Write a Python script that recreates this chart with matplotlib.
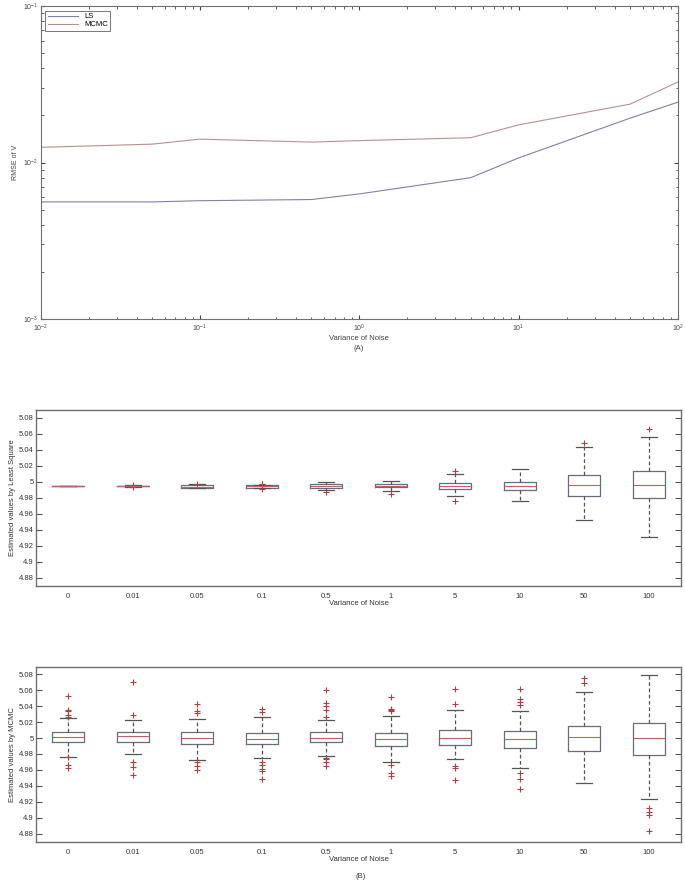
import numpy as np
import matplotlib
matplotlib.use("Agg")
import matplotlib.pyplot as plt
from matplotlib.ticker import LogLocator, NullFormatter

# --- panel A: RMSE of V vs noise variance ---
noise = [0.01, 0.05, 0.1, 0.5, 1, 5, 10, 50, 100]
rmse_ls = [0.0056, 0.0056, 0.0057, 0.0058, 0.0063, 0.0080, 0.0107, 0.0192, 0.0243]
rmse_mcmc = [0.0125, 0.0131, 0.0141, 0.0135, 0.0138, 0.0144, 0.0174, 0.0236, 0.0327]

# --- panel B: box plot stats (med, q1, q3, whislo, whishi) ---
cats = ["0", "0.01", "0.05", "0.1", "0.5", "1", "5", "10", "50", "100"]

ls_med = [4.9946, 4.9946, 4.9940, 4.9946, 4.9946, 4.9946, 4.9945, 4.9946, 4.9959, 4.9959]
ls_q1 = [4.9946, 4.9941, 4.9922, 4.9925, 4.9921, 4.9930, 4.9905, 4.9892, 4.9825, 4.9800]
ls_q3 = [4.9946, 4.9951, 4.9954, 4.9958, 4.9967, 4.9967, 4.9980, 5.0000, 5.0084, 5.0134]
ls_lo = [4.9946, 4.9938, 4.9918, 4.9920, 4.9900, 4.9880, 4.9825, 4.9759, 4.9520, 4.9310]
ls_hi = [4.9946, 4.9954, 4.9966, 4.9965, 4.9992, 5.0009, 5.0093, 5.0159, 5.0430, 5.0555]
ls_fl = [[], [4.9956, 4.9935], [4.9970], [4.9972, 4.9915, 4.9968], [4.9875],
         [4.9850], [5.0137, 4.9763], [], [5.0484], [5.0655]]

mc_med = [5.0008, 5.0020, 5.0000, 4.9991, 5.0000, 4.9991, 5.0004, 4.9987, 5.0012, 5.0000]
mc_q1 = [4.9945, 4.9954, 4.9925, 4.9925, 4.9954, 4.9900, 4.9912, 4.9879, 4.9837, 4.9783]
mc_q3 = [5.0070, 5.0070, 5.0070, 5.0062, 5.0075, 5.0062, 5.0100, 5.0091, 5.0150, 5.0191]
mc_lo = [4.9767, 4.9795, 4.9729, 4.9754, 4.9779, 4.9704, 4.9741, 4.9629, 4.9433, 4.9241]
mc_hi = [5.0250, 5.0229, 5.0241, 5.0262, 5.0229, 5.0275, 5.0354, 5.0341, 5.0583, 5.0787]
mc_fl = [[5.0533, 5.0354, 5.0337, 5.0287, 5.0270, 4.9760, 4.9666, 4.9620],
         [5.0708, 5.0291, 4.9704, 4.9633, 4.9541],
         [5.0425, 5.0337, 5.0316, 4.9696, 4.9654, 4.9604],
         [5.0370, 5.0329, 4.9700, 4.9666, 4.9612, 4.9583, 4.9490],
         [5.0600, 5.0445, 5.0404, 5.0354, 5.0262, 4.9754, 4.9737, 4.9696, 4.9654],
         [5.0512, 5.0362, 5.0341, 5.0350, 4.9658, 4.9562, 4.9529],
         [5.0612, 5.0429, 4.9654, 4.9620, 4.9475],
         [5.0612, 5.0495, 5.0458, 5.0412, 4.9562, 4.9490, 4.9362],
         [5.0750, 5.0687],
         [4.9125, 4.9070, 4.9029, 4.8833]]

plt.rcParams['font.family'] = ['Liberation Sans', 'DejaVu Sans']
plt.rcParams['font.size'] = 5.5
axcol = '#707070'

fig = plt.figure(figsize=(6.85, 8.81), dpi=100)

# panel A
ax1 = fig.add_axes([0.0594, 0.6379, 0.9304, 0.3553])
ax1.loglog(noise, rmse_ls, color='#8080aa', lw=0.8, label='LS')
ax1.loglog(noise, rmse_mcmc, color='#b89090', lw=0.8, label='MCMC')
ax1.set_xlim(1e-2, 1e2)
ax1.set_ylim(1e-3, 1e-1)
ax1.xaxis.set_minor_locator(LogLocator(subs=np.arange(2, 10), numticks=20))
ax1.yaxis.set_minor_locator(LogLocator(subs=np.arange(2, 10), numticks=20))
ax1.xaxis.set_minor_formatter(NullFormatter())
ax1.yaxis.set_minor_formatter(NullFormatter())
ax1.tick_params(which='both', direction='in', top=True, right=True, colors='#444444',
                labelsize=5, pad=1.5)
ax1.tick_params(axis='x', which='major', pad=3)
ax1.tick_params(which='major', length=3)
ax1.tick_params(which='minor', length=1.8)
for s in ax1.spines.values():
    s.set_color(axcol)
ax1.set_ylabel('RMSE of V', fontsize=5, labelpad=3, color='#444444')
ax1.set_xlabel('Variance of Noise', fontsize=5.5, labelpad=0.5, color='#444444')
leg = ax1.legend(loc='upper left', fontsize=5.5, frameon=True, fancybox=False,
                 edgecolor='#555555', handlelength=4, borderpad=0.3,
                 labelspacing=0.1, borderaxespad=0.6)
leg.get_frame().set_linewidth(0.7)
fig.text(0.524, 1 - 348 / 881, '(A)', ha='center', va='center', fontsize=5.5,
         color='#444444')


def boxpanel(ax, med, q1, q3, lo, hi, fl, ylabel):
    stats = []
    for i in range(len(cats)):
        stats.append(dict(med=med[i], q1=q1[i], q3=q3[i], whislo=lo[i],
                          whishi=hi[i], fliers=fl[i], label=cats[i]))
    ax.bxp(stats, positions=range(1, len(cats) + 1), widths=0.5,
           boxprops=dict(color='#6b6b7b', lw=0.9),
           medianprops=dict(color='#c06060', lw=0.8),
           whiskerprops=dict(color='#555555', lw=0.9, ls=(0, (3, 2))),
           capprops=dict(color='#555555', lw=0.9),
           flierprops=dict(marker='+', markeredgecolor='#b04040', markersize=4,
                           markeredgewidth=0.8, ls='none'),
           capwidths=0.25)
    ax.set_xlim(0.5, len(cats) + 0.5)
    ax.set_ylim(4.8696, 5.0896)
    ax.set_yticks([4.88, 4.9, 4.92, 4.94, 4.96, 4.98, 5, 5.02, 5.04, 5.06, 5.08])
    ax.set_yticklabels(['4.88', '4.9', '4.92', '4.94', '4.96', '4.98', '5',
                        '5.02', '5.04', '5.06', '5.08'])
    ax.tick_params(axis='y', direction='in', right=True, length=4, colors='#555555',
                   labelcolor='#333333', labelsize=5.5, pad=1.5)
    ax.tick_params(axis='x', length=0, labelcolor='#333333', labelsize=5.5, pad=5)
    for s in ax.spines.values():
        s.set_color(axcol)
        s.set_linewidth(1.0)
    ax.set_xlabel('Variance of Noise', fontsize=5.5, labelpad=0, color='#333333')
    ax.set_ylabel(ylabel, fontsize=5.5, labelpad=2, color='#333333')


ax2 = fig.add_axes([0.0526, 0.3348, 0.9416, 0.1998])
boxpanel(ax2, ls_med, ls_q1, ls_q3, ls_lo, ls_hi, ls_fl,
         'Estimated values by Least Square')

ax3 = fig.add_axes([0.0526, 0.0443, 0.9416, 0.199])
boxpanel(ax3, mc_med, mc_q1, mc_q3, mc_lo, mc_hi, mc_fl,
         'Estimated values by MCMC')

fig.text(0.527, 1 - 876 / 881, '(B)', ha='center', va='center', fontsize=5.5,
         color='#333333')

fig.savefig('out.png', dpi=100)
